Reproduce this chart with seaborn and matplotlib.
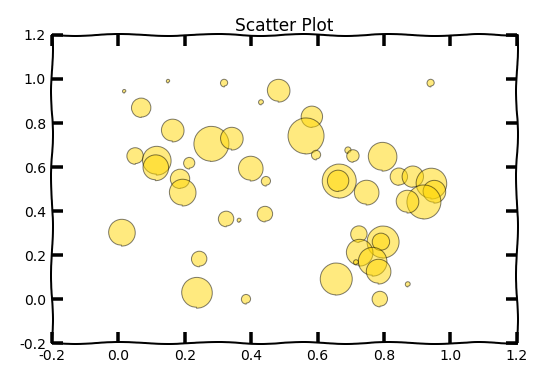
import numpy as np
import matplotlib
matplotlib.use("Agg")
import matplotlib.pyplot as plt
import seaborn as sns

# bubble positions and areas (points^2)
x = [0.009, 0.069, 0.051, 0.114, 0.111, 0.162, 0.214, 0.186, 0.192, 0.277,
     0.340, 0.319, 0.481, 0.430, 0.150, 0.018, 0.397, 0.445, 0.941, 0.583,
     0.562, 0.596, 0.692, 0.707, 0.794, 0.662, 0.662, 0.746, 0.845, 0.887,
     0.941, 0.950, 0.917, 0.869, 0.725, 0.794, 0.791, 0.725, 0.764, 0.782,
     0.716, 0.653, 0.788, 0.872, 0.325, 0.364, 0.442, 0.244, 0.235, 0.385]
y = [0.300, 0.868, 0.650, 0.627, 0.595, 0.764, 0.618, 0.545, 0.482, 0.705,
     0.727, 0.982, 0.945, 0.895, 0.991, 0.945, 0.591, 0.536, 0.982, 0.827,
     0.741, 0.655, 0.677, 0.650, 0.645, 0.536, 0.536, 0.482, 0.555, 0.555,
     0.523, 0.486, 0.441, 0.441, 0.295, 0.259, 0.259, 0.209, 0.168, 0.123,
     0.168, 0.091, 0.000, 0.068, 0.364, 0.359, 0.386, 0.182, 0.027, 0.000]
area = [676, 324, 225, 784, 625, 484, 100, 324, 676, 1225,
        484, 36, 484, 16, 6, 6, 576, 64, 36, 400,
        1296, 64, 25, 121, 784, 1156, 400, 576, 256, 400,
        900, 484, 1156, 484, 225, 1024, 256, 676, 784, 576,
        16, 1024, 196, 16, 196, 9, 196, 196, 900, 64]

xticks = [-0.2, 0.0, 0.2, 0.4, 0.6, 0.8, 1.0, 1.2]
yticks = [-0.2, 0.0, 0.2, 0.4, 0.6, 0.8, 1.0, 1.2]

plt.xkcd()
plt.rcParams['font.family'] = ['DejaVu Sans']
plt.rcParams['path.effects'] = []  # no white halo, ticks touch the spines

fig = plt.figure(figsize=(539 / 72, 380 / 72), dpi=72)
ax = fig.add_axes([0.0965, 0.097, 0.8625, 0.811])

sns.scatterplot(x=x, y=y, s=area, color='gold', alpha=0.5,
                edgecolor='black', linewidth=1, legend=False, ax=ax)

ax.set_xlim(-0.2, 1.2)
ax.set_ylim(-0.2, 1.2)
ax.set_xticks(xticks)
ax.set_yticks(yticks)
ax.set_xticklabels([f"{t:.1f}" for t in xticks])
ax.set_yticklabels([f"{t:.1f}" for t in yticks])
ax.tick_params(direction='in', top=True, right=True, length=11, width=3.5,
               labelsize=14, pad=6)
for sp in ax.spines.values():
    sp.set_linewidth(2)
ax.set_title('Scatter Plot', fontsize=17, pad=4)

fig.savefig('out.png', dpi=72)
